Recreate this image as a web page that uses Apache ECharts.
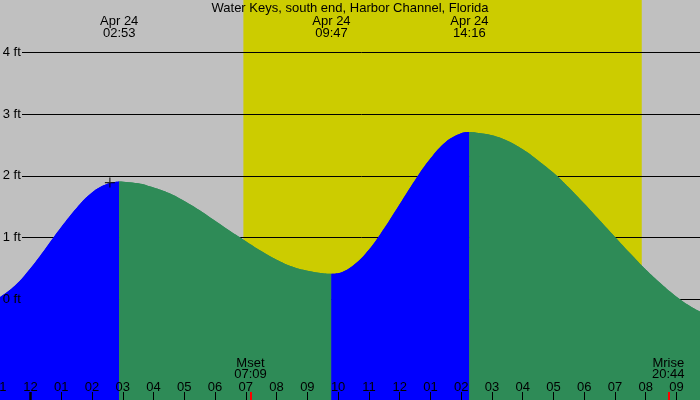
<!DOCTYPE html>
<html>
<head>
<meta charset="utf-8">
<script src="https://cdn.jsdelivr.net/npm/echarts@6/dist/echarts.min.js"></script>
<style>html,body{margin:0;padding:0;background:#c0c0c0}#c{width:700px;height:400px}</style>
</head>
<body>
<div id="c"></div>
<script>
// ---- data (hours relative to midnight, Apr 24) ----
const titleText = 'Water Keys, south end, Harbor Channel, Florida';
const hourLabels = ['11','12','01','02','03','04','05','06','07','08','09','10','11','12','01','02','03','04','05','06','07','08','09','10']; // -1 .. 22
const yTicks = [0, 1, 2, 3, 4];
const curveHours = [-1, -0.5, 0, 0.5, 1, 1.5, 2, 2.5, 2.883, 3.5, 4, 4.5, 5, 5.5, 6, 6.5, 7, 7.5, 8, 8.5, 9, 9.5, 9.783, 10, 10.5, 11, 11.5, 12, 12.5, 13, 13.5, 14, 14.267, 14.5, 15, 15.5, 16, 16.5, 17, 17.5, 18, 18.5, 19, 19.5, 20, 20.5, 21, 21.5, 22];
const curveFeet  = [0.03, 0.22, 0.50, 0.83, 1.17, 1.48, 1.73, 1.87, 1.91, 1.88, 1.81, 1.72, 1.59, 1.44, 1.27, 1.10, 0.94, 0.78, 0.64, 0.53, 0.46, 0.42, 0.41, 0.42, 0.55, 0.80, 1.15, 1.54, 1.93, 2.28, 2.55, 2.69, 2.71, 2.70, 2.66, 2.57, 2.43, 2.25, 2.05, 1.81, 1.55, 1.28, 1.01, 0.74, 0.48, 0.25, 0.04, -0.13, -0.26];
const tideHours = [2.883, 9.783, 14.267];
const tideDates = ['Apr 24', 'Apr 24', 'Apr 24'];
const tideTimes = ['02:53', '09:47', '14:16'];
const moonHours = [7.15, 20.733];
const moonNames = ['Mset', 'Mrise'];
const moonTimes = ['07:09', '20:44'];
const sunriseHour = 6.92;
const sunsetHour = 19.87;
const nowHour = 2.58;
const nowFeet = 1.89;

// ---- layout / style ----
const FONT = '"Liberation Sans", Arial, sans-serif';
const X_MIN = -1, X_MAX = 22, Y_MIN = -2, Y_MAX = 5;
const gridLineStart = -0.276;
const COL_RISE = '#0000ff', COL_FALL = '#2e8b57', COL_DAY = '#cccc00', COL_NIGHT = '#c0c0c0';

function lookup(hours, v) {
  let best = 0;
  for (let i = 1; i < hours.length; i++) if (Math.abs(hours[i] - v) < Math.abs(hours[best] - v)) best = i;
  return best;
}

// split the curve into rising / falling segments at tide extremes
const bounds = [curveHours[0]].concat(tideHours).concat([curveHours[curveHours.length - 1]]);
const segSeries = [];
for (let s = 0; s < bounds.length - 1; s++) {
  const pts = [];
  for (let i = 0; i < curveHours.length; i++) {
    if (curveHours[i] >= bounds[s] - 1e-9 && curveHours[i] <= bounds[s + 1] + 1e-9) pts.push([curveHours[i], curveFeet[i]]);
  }
  const rising = pts[pts.length - 1][1] > pts[0][1];
  // drawn twice so the anti-aliased seams between adjacent segments close up
  for (let k = 0; k < 2; k++) {
    segSeries.push({
      type: 'line', data: pts, smooth: 0.4, showSymbol: false, silent: true,
      lineStyle: { width: 0 }, areaStyle: { color: rising ? COL_RISE : COL_FALL, opacity: 1, origin: 'start' }, z: 4
    });
  }
}

const chart = echarts.init(document.getElementById('c'), null, { renderer: 'canvas' });
const commonX = { type: 'value', min: X_MIN, max: X_MAX, interval: 1, splitLine: { show: false }, z: 10 };
const noLine = { show: false, onZero: false };
chart.setOption({
  animation: false,
  backgroundColor: COL_NIGHT,
  textStyle: { fontFamily: FONT },
  title: { text: titleText, left: 'center', top: 2, padding: 0, textStyle: { fontSize: 13, fontWeight: 'normal', color: '#000', fontFamily: FONT } },
  grid: { left: -0.26, right: -7.26, top: -9.17, bottom: -22.5, containLabel: false, outerBoundsMode: 'none' },
  xAxis: [
    Object.assign({}, commonX, {
      position: 'bottom', offset: -22.5,
      axisLine: noLine,
      axisTick: { show: true, inside: true, length: 8, lineStyle: { color: '#000', width: 1 } },
      axisLabel: { show: true, inside: true, margin: 6.5, fontSize: 13, color: '#000', fontFamily: FONT, showMinLabel: true, showMaxLabel: true, hideOverlap: false,
        formatter: v => hourLabels[Math.round(v) - X_MIN] || '' }
    }),
    Object.assign({}, commonX, {
      position: 'bottom', offset: -22.5,
      axisLine: noLine,
      axisTick: { show: true, inside: true, length: 8, customValues: [0], lineStyle: { color: '#000', width: 2.5 } },
      axisLabel: { show: false }
    }),
    Object.assign({}, commonX, {
      position: 'bottom', offset: -22.5,
      axisLine: noLine,
      axisTick: { show: true, inside: true, length: 8, customValues: moonHours, lineStyle: { color: '#ff0000', width: 2 } },
      axisLabel: { show: true, inside: true, margin: 19.5, customValues: moonHours, fontSize: 13, lineHeight: 11.7, color: '#000', fontFamily: FONT,
        formatter: v => { const i = lookup(moonHours, v); return moonNames[i] + '\n' + moonTimes[i]; } }
    }),
    Object.assign({}, commonX, {
      position: 'top',
      axisLine: noLine,
      axisTick: { show: false },
      axisLabel: { show: true, inside: true, margin: 25, customValues: tideHours, fontSize: 13, lineHeight: 11.7, color: '#000', fontFamily: FONT,
        formatter: v => { const i = lookup(tideHours, v); return tideDates[i] + '\n' + tideTimes[i]; } }
    })
  ],
  yAxis: {
    type: 'value', min: Y_MIN, max: Y_MAX, interval: 1, position: 'left', z: 10,
    axisLine: noLine, axisTick: { show: false }, splitLine: { show: false },
    axisLabel: { show: true, inside: true, margin: 3, fontSize: 13, color: '#000', fontFamily: FONT,
      formatter: v => (yTicks.indexOf(v) >= 0 ? v + ' ft' : '') }
  },
  series: [
    { type: 'line', data: [], silent: true, z: 1,
      markArea: { silent: true, z: 1, itemStyle: { color: COL_DAY, opacity: 1 }, data: [[{ xAxis: sunriseHour }, { xAxis: sunsetHour }]] } },
    { type: 'line', data: [], silent: true, z: 2,
      markLine: { silent: true, z: 2, symbol: ['none', 'none'], label: { show: false }, lineStyle: { color: '#000', width: 1, type: 'solid' },
        data: yTicks.map(v => [{ coord: [gridLineStart, v] }, { coord: [X_MAX, v] }]) } }
  ].concat(segSeries).concat([
    { type: 'scatter', data: [[nowHour, nowFeet]], z: 6, silent: true, symbol: 'path://M0,4.4h10v1.2h-10z M4.4,0h1.2v10h-1.2z', symbolSize: 10,
      itemStyle: { color: '#000' } }
  ])
});
</script>
</body>
</html>
